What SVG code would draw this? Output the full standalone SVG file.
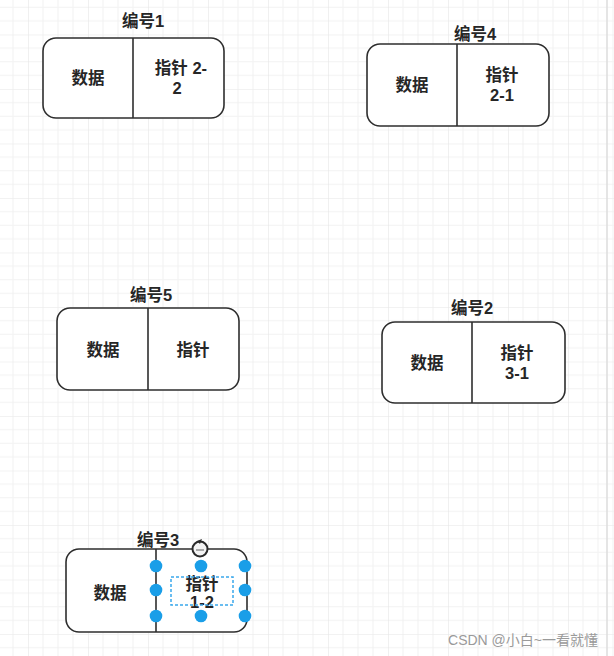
<svg xmlns="http://www.w3.org/2000/svg" width="614" height="656" viewBox="0 0 614 656">
  <defs>
    <pattern id="grid" patternUnits="userSpaceOnUse" x="28" y="34.5" width="60" height="54.5">
      <g stroke="#f2f2f2" stroke-width="1">
        <line x1="15" y1="0" x2="15" y2="54.5"/>
        <line x1="30" y1="0" x2="30" y2="54.5"/>
        <line x1="45" y1="0" x2="45" y2="54.5"/>
        <line x1="0" y1="13.6" x2="60" y2="13.6"/>
        <line x1="0" y1="27.25" x2="60" y2="27.25"/>
        <line x1="0" y1="40.9" x2="60" y2="40.9"/>
      </g>
      <g stroke="#e6e6e6" stroke-width="1.2">
        <line x1="0" y1="0" x2="0" y2="54.5"/>
        <line x1="0" y1="0" x2="60" y2="0"/>
      </g>
    </pattern>
  </defs>
  <style>
    .box { fill: #ffffff; stroke: #2e2e2e; stroke-width: 1.6; }
    .div { stroke: #2e2e2e; stroke-width: 1.6; }
    .t { font-family: "Liberation Sans", "Noto Sans CJK SC", sans-serif; font-size: 16.5px; font-weight: bold; fill: #262626; text-anchor: middle; dominant-baseline: central; }
    .h { fill: #1a9ee8; }
    .wm { font-family: "Liberation Sans", "Noto Sans CJK SC", sans-serif; font-size: 14px; fill: #9a9a9a; text-anchor: end; }
  </style>
  <rect width="614" height="656" fill="#ffffff"/>
  <rect width="614" height="656" fill="url(#grid)"/>
  <line x1="607" y1="0" x2="607" y2="656" stroke="#dcdcdc" stroke-width="1.5"/>

  <g id="node1">
    <text class="t" x="143" y="21">编号1</text>
    <rect class="box" x="43" y="38" width="181" height="80" rx="13"/>
    <line class="div" x1="133" y1="38" x2="133" y2="118"/>
    <text class="t" x="88" y="78">数据</text>
    <text class="t" x="181" y="68">指针 2-</text>
    <text class="t" x="177" y="88">2</text>
  </g>

  <g id="node4">
    <text class="t" x="475" y="34">编号4</text>
    <rect class="box" x="367" y="44" width="182" height="82" rx="13"/>
    <line class="div" x1="457" y1="44" x2="457" y2="126"/>
    <text class="t" x="412" y="85">数据</text>
    <text class="t" x="502" y="75">指针</text>
    <text class="t" x="502" y="95">2-1</text>
  </g>

  <g id="node5">
    <text class="t" x="151" y="295">编号5</text>
    <rect class="box" x="57" y="308" width="182" height="82" rx="13"/>
    <line class="div" x1="148" y1="308" x2="148" y2="390"/>
    <text class="t" x="103" y="350">数据</text>
    <text class="t" x="193" y="350">指针</text>
  </g>

  <g id="node2">
    <text class="t" x="472" y="308">编号2</text>
    <rect class="box" x="382" y="322" width="183" height="81" rx="13"/>
    <line class="div" x1="472" y1="322" x2="472" y2="403"/>
    <text class="t" x="427" y="363">数据</text>
    <text class="t" x="517" y="353">指针</text>
    <text class="t" x="517" y="373">3-1</text>
  </g>

  <g id="node3">
    <text class="t" x="158" y="540">编号3</text>
    <rect class="box" x="66" y="549" width="181" height="83" rx="13"/>
    <line class="div" x1="156" y1="549" x2="156" y2="632"/>
    <text class="t" x="110" y="593">数据</text>
    <text class="t" x="202" y="584">指针</text>
    <text class="t" x="202" y="602">1-2</text>
    <rect x="171" y="577" width="62" height="28" fill="none" stroke="#3aa8ec" stroke-width="1.5" stroke-dasharray="3 2"/>
    <circle class="h" cx="156" cy="566" r="6.3"/>
    <circle class="h" cx="201" cy="566" r="6.3"/>
    <circle class="h" cx="245" cy="566" r="6.3"/>
    <circle class="h" cx="156" cy="590" r="6.3"/>
    <circle class="h" cx="245" cy="590" r="6.3"/>
    <circle class="h" cx="156" cy="616" r="6.3"/>
    <circle class="h" cx="201" cy="616" r="6.3"/>
    <circle class="h" cx="245" cy="616" r="6.3"/>
    <g id="rotate">
      <circle cx="200" cy="549" r="7.5" fill="#f4f4f4" stroke="#2a2a2a" stroke-width="2"/>
      <line x1="196" y1="550" x2="204" y2="550" stroke="#777" stroke-width="1.2"/>
      <path d="M197 541 L202 539 L200 544 Z" fill="#2a2a2a"/>
    </g>
  </g>

  <text class="wm" x="598" y="645">CSDN @小白~一看就懂</text>
</svg>
